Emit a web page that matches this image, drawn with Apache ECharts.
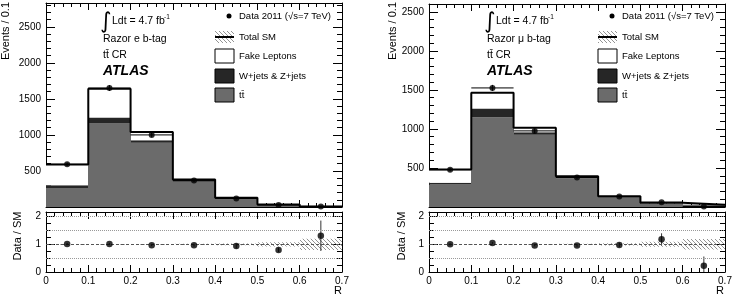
<!DOCTYPE html>
<html>
<head>
<meta charset="utf-8">
<script src="https://cdn.jsdelivr.net/npm/echarts@6/dist/echarts.min.js"></script>
<style>
  html, body { margin: 0; padding: 0; background: #fff; }
  #chart { width: 739px; height: 298px; }
</style>
</head>
<body>
<div id="chart"></div>
<script>
// bin centres in R (bin width 0.1)
const rCenters = [0.05, 0.15, 0.25, 0.35, 0.45, 0.55, 0.65]
const binHalf = 0.05

// electron channel (left)
const ttbarE = [265, 1160, 890, 352, 113, 28, 5]
const wzE = [35, 82, 35, 15, 9, 4, 1]
const fakeE = [290, 400, 115, 14, 7, 3, 0]
const dataE = [592, 1650, 1000, 367, 118, 28, 8]
const dataErrE = [24, 41, 32, 19, 11, 5, 3]
const ratioE = [1.01, 1.01, 0.97, 0.97, 0.94, 0.80, 1.31]
const ratioErrE = [0.04, 0.03, 0.03, 0.05, 0.09, 0.08, 0.55]
const sysE = [0.015, 0.015, 0.015, 0.02, 0.03, 0.08, 0.2]

// muon channel (right)
const ttbarM = [288, 1148, 925, 368, 122, 44, 25]
const wzM = [24, 112, 32, 15, 10, 5, 3]
const fakeM = [168, 203, 58, 10, 7, 4, 2]
const dataM = [478, 1525, 975, 378, 134, 62, 7]
const dataErrM = [22, 39, 31, 19, 12, 8, 3]
const ratioM = [1.0, 1.05, 0.96, 0.96, 0.98, 1.18, 0.23]
const ratioErrM = [0.04, 0.03, 0.03, 0.05, 0.08, 0.22, 0.33]
const sysM = [0.015, 0.015, 0.015, 0.02, 0.04, 0.09, 0.19]

const FONT = 'Liberation Sans'
const chart = echarts.init(document.getElementById('chart'), null, { renderer: 'canvas' })

// diagonal hatch used for the Total SM uncertainty
const makeHatch = () => {
  const c = document.createElement('canvas')
  c.width = 4
  c.height = 4
  const g = c.getContext('2d')
  g.strokeStyle = '#888'
  g.lineWidth = 0.9
  g.beginPath()
  for (let k = -1; k <= 1; k++) {
    g.moveTo(k * 4, 0)
    g.lineTo(k * 4 + 4, 4)
  }
  g.stroke()
  return c
}
const hatchFill = { image: makeHatch(), repeat: 'repeat' }

const grids = [
  { left: 46, top: 3, width: 296, height: 204 },
  { left: 46, top: 212, width: 296, height: 60 },
  { left: 429, top: 4, width: 296, height: 203 },
  { left: 429, top: 212, width: 296, height: 60 }
]

const xAxes = []
const yAxes = []
const labelStyle = { fontFamily: FONT, fontSize: 10, color: '#000' }

// ROOT-like frame: ticks inside on all four sides
const addFrame = (grid, yMax, yMajor, yMinor, showX, yFmt) => {
  const xi = xAxes.length
  const yi = yAxes.length
  ;['bottom', 'top'].forEach(pos => {
    xAxes.push({
      type: 'value', gridIndex: grid, position: pos, min: 0, max: 0.7, interval: 0.1,
      axisLine: { show: true, onZero: false, lineStyle: { color: '#000', width: 1 } },
      axisTick: { show: true, inside: true, length: 7, lineStyle: { color: '#000' } },
      minorTick: { show: true, splitNumber: 5, length: 4, lineStyle: { color: '#000' } },
      axisLabel: { show: showX && pos === 'bottom', margin: 4, ...labelStyle },
      splitLine: { show: false }
    })
  })
  ;['left', 'right'].forEach(pos => {
    yAxes.push({
      type: 'value', gridIndex: grid, position: pos, min: 0, max: yMax, interval: yMajor,
      axisLine: { show: true, onZero: false, lineStyle: { color: '#000', width: 1 } },
      axisTick: { show: true, inside: true, length: 9, lineStyle: { color: '#000' } },
      axisLabel: { show: pos === 'left', margin: 5, formatter: yFmt, ...labelStyle },
      splitLine: { show: false }
    })
    yAxes.push({
      type: 'value', gridIndex: grid, position: pos, min: 0, max: yMax, interval: yMinor,
      axisLine: { show: false, onZero: false },
      axisTick: { show: true, inside: true, length: 5, lineStyle: { color: '#000' } },
      axisLabel: { show: false },
      splitLine: { show: false }
    })
  })
  return { xi, yi }
}

const mainFmt = v => (v > 0 && v % 500 === 0 ? String(v) : '')
const ratioFmt = v => (Number.isInteger(v) ? String(v) : '')

const series = []

// histogram bin as a rect; edges snapped to whole pixels so neighbours leave no seam
const rectItem = fill => (params, api) => {
  const p0 = api.coord([api.value(0) - binHalf, api.value(1)])
  const p1 = api.coord([api.value(0) + binHalf, api.value(2)])
  const x0 = Math.round(p0[0]), x1 = Math.round(p1[0])
  return {
    type: 'rect',
    shape: { x: x0, y: p1[1], width: x1 - x0, height: p0[1] - p1[1] },
    style: { fill: fill, stroke: null }
  }
}

const buildPanel = (mainGrid, ratioGrid, ttbar, wz, fake, data, dataErr, ratio, ratioErr, sys, yMax) => {
  const m = addFrame(mainGrid, yMax, 500, 100, false, mainFmt)
  const r = addFrame(ratioGrid, 2.17, 1, 0.25, true, ratioFmt)
  const ax = { xAxisIndex: m.xi, yAxisIndex: m.yi }
  const axR = { xAxisIndex: r.xi, yAxisIndex: r.yi }

  // stacked components: ttbar, W/Z+jets, fake leptons
  const comps = [[ttbar, '#6b6b6b'], [wz, '#262626'], [fake, '#ffffff']]
  const base = rCenters.map(() => 0)
  comps.forEach(([vals, col]) => {
    const rows = rCenters.map((c, i) => [c, base[i], base[i] + vals[i]])
    rows.forEach((row, i) => { base[i] = row[2] })
    series.push({ type: 'custom', ...ax, z: 1, silent: true, renderItem: rectItem(col), data: rows })
  })

  // total SM outline
  const stepData = rCenters.map((c, i) => [c - binHalf, base[i]])
  stepData.push([0.7, base[base.length - 1]])
  series.push({
    type: 'line', ...ax, step: 'end', data: stepData, symbol: 'none', z: 3, silent: true,
    lineStyle: { color: '#000', width: 2 }
  })

  // data with stat error bars and bin-width horizontal bars
  series.push({
    type: 'custom', ...ax, z: 4, silent: true,
    data: rCenters.map((c, i) => [c, data[i], dataErr[i]]),
    renderItem: (params, api) => {
      const c = api.value(0), v = api.value(1), e = api.value(2)
      const a = api.coord([c, v - e]), b = api.coord([c, v + e])
      const l = api.coord([c - binHalf, v]), rr = api.coord([c + binHalf, v])
      const st = { stroke: '#000', lineWidth: 1 }
      return {
        type: 'group', children: [
          { type: 'line', shape: { x1: a[0], y1: a[1], x2: b[0], y2: b[1] }, style: st },
          { type: 'line', shape: { x1: l[0], y1: l[1], x2: rr[0], y2: rr[1] }, style: st }
        ]
      }
    }
  })
  series.push({
    type: 'scatter', ...ax, z: 5, silent: true, symbol: 'circle', symbolSize: 6,
    itemStyle: { color: '#000' }, data: rCenters.map((c, i) => [c, data[i]])
  })

  // ratio: hatched Total SM band and reference lines
  series.push({
    type: 'custom', ...axR, z: 1, silent: true,
    data: rCenters.map((c, i) => [c, 1 - sys[i], 1 + sys[i]]),
    renderItem: rectItem(hatchFill),
    markLine: {
      silent: true, symbol: 'none', label: { show: false },
      data: [
        { yAxis: 0.5, lineStyle: { color: '#999', type: 'dotted', width: 1 } },
        { yAxis: 1.5, lineStyle: { color: '#999', type: 'dotted', width: 1 } },
        { yAxis: 2, lineStyle: { color: '#999', type: 'dotted', width: 1 } },
        { yAxis: 1, lineStyle: { color: '#555', type: [3, 2], width: 1 } }
      ]
    }
  })
  series.push({
    type: 'custom', ...axR, z: 4, silent: true,
    data: rCenters.map((c, i) => [c, ratio[i], ratioErr[i]]),
    renderItem: (params, api) => {
      const c = api.value(0), v = api.value(1), e = api.value(2)
      const a = api.coord([c, Math.max(0, v - e)]), b = api.coord([c, v + e])
      return { type: 'line', shape: { x1: a[0], y1: a[1], x2: b[0], y2: b[1] }, style: { stroke: '#333', lineWidth: 1 } }
    }
  })
  series.push({
    type: 'scatter', ...axR, z: 5, silent: true, symbol: 'circle', symbolSize: 6.5,
    itemStyle: { color: '#000' }, data: rCenters.map((c, i) => [c, ratio[i]])
  })
}

buildPanel(0, 1, ttbarE, wzE, fakeE, dataE, dataErrE, ratioE, ratioErrE, sysE, 2830)
buildPanel(2, 3, ttbarM, wzM, fakeM, dataM, dataErrM, ratioM, ratioErrM, sysM, 2600)

// labels, legend boxes and axis titles
const txt = (x, y, text, extra) => ({
  type: 'text', x, y, silent: true,
  style: { text, fontFamily: FONT, fontSize: 10, fill: '#000', verticalAlign: 'middle', ...extra }
})
const box = (x, y, w, h, fill) => ({
  type: 'rect', silent: true, shape: { x, y, width: w, height: h },
  style: { fill, stroke: '#000', lineWidth: 1 }
})

const panelText = (ox, lx, chan) => [
  txt(ox - 3, 22, '\u222B', { fontSize: 22, fontFamily: 'DejaVu Sans' }),
  txt(ox + 9, 21, 'Ldt = 4.7 fb', { fontSize: 10.5 }),
  txt(ox + 61, 17, '-1', { fontSize: 6.5 }),
  txt(ox, 39, 'Razor ' + chan + ' b-tag', { fontSize: 10.5 }),
  txt(ox, 55, 'tt\u0304 CR', { fontSize: 10.5 }),
  txt(ox, 71, 'ATLAS', { fontSize: 14, fontWeight: 'bold', fontStyle: 'italic' }),
  { type: 'circle', silent: true, shape: { cx: lx + 14, cy: 16, r: 2.5 }, style: { fill: '#000' } },
  txt(lx + 24, 16, 'Data 2011 (\u221As=7 TeV)', { fontSize: 9.5 }),
  { type: 'rect', silent: true, shape: { x: lx, y: 31, width: 19, height: 12 }, style: { fill: hatchFill } },
  { type: 'line', silent: true, shape: { x1: lx, y1: 37, x2: lx + 19, y2: 37 }, style: { stroke: '#000', lineWidth: 2 } },
  txt(lx + 24, 37, 'Total SM', { fontSize: 9.5 }),
  box(lx, 49, 19, 14, '#fff'),
  txt(lx + 24, 56, 'Fake Leptons', { fontSize: 9.5 }),
  box(lx, 69, 19, 14, '#262626'),
  txt(lx + 24, 76, 'W+jets & Z+jets', { fontSize: 9.5 }),
  box(lx, 88, 19, 14, '#6b6b6b'),
  txt(lx + 24, 95, 'tt\u0304', { fontSize: 9.5 })
]

const axisTitles = (yTitleX, rTitleX, rX) => [
  txt(yTitleX, 2, 'Events / 0.1', { fontSize: 11, align: 'right', verticalAlign: 'middle' }),
  txt(rTitleX, 236, 'Data / SM', { fontSize: 11, align: 'center', verticalAlign: 'middle' }),
  txt(rX, 291, 'R', { fontSize: 11, align: 'center' })
]

const graphics = [
  ...panelText(103, 215, 'e'),
  ...panelText(487, 598, '\u03BC'),
  ...axisTitles(6, 18, 338),
  ...axisTitles(393, 402, 720)
]
// rotate the y titles so they read bottom-to-top
graphics.forEach(g => {
  if (g.style && (g.style.text === 'Events / 0.1' || g.style.text === 'Data / SM')) g.rotation = Math.PI / 2
})

chart.setOption({
  animation: false,
  backgroundColor: '#fff',
  grid: grids,
  xAxis: xAxes,
  yAxis: yAxes,
  series,
  graphic: { elements: graphics }
})

window.addEventListener('resize', () => chart.resize())
</script>
</body>
</html>
